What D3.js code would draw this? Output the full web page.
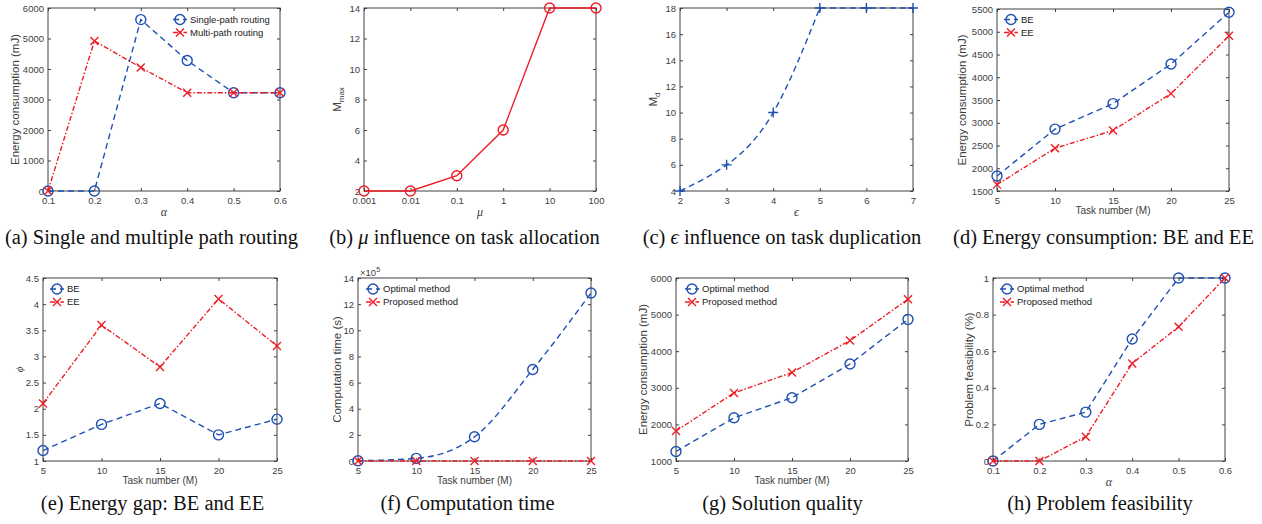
<!DOCTYPE html>
<html>
<head>
<meta charset="utf-8">
<script src="https://cdn.jsdelivr.net/npm/d3@7"></script>
<style>
  body { margin: 0; background: #fff; }
  .tick text { font-family: "Liberation Sans", Arial, sans-serif; font-size: 9.5px; fill: #404040; }
  .tick line { stroke: #404040; }
  .lab { font-family: "Liberation Sans", Arial, sans-serif; fill: #404040; }
  .leg { font-family: "Liberation Sans", Arial, sans-serif; font-size: 9.5px; fill: #1a1a1a; }
  .cap { font-family: "Liberation Serif", "Times New Roman", serif; font-size: 20.5px; fill: #111; }
  .greek { font-family: "Liberation Serif", "DejaVu Serif", serif; font-style: italic; fill: #404040; }
</style>
</head>
<body>
<svg id="fig" width="1262" height="524"></svg>
<script>
// ---- data ----
var alphaVals = [0.1, 0.2, 0.3, 0.4, 0.5, 0.6];
var singlePath = [0, 0, 5620, 4280, 3220, 3220];
var multiPath = [0, 4920, 4050, 3220, 3220, 3220];

var muVals = [0.001, 0.01, 0.1, 1, 10, 100];
var mMax = [2, 2, 3, 6, 14, 14];

var epsVals = [2, 3, 4, 5, 6, 7];
var mD = [4, 6, 10, 18, 18, 18];

var taskNums = [5, 10, 15, 20, 25];
var energyBE = [1830, 2860, 3420, 4290, 5430];
var energyEE = [1640, 2440, 2830, 3640, 4910];

var gapBE = [1.2, 1.7, 2.1, 1.5, 1.8];
var gapEE = [2.1, 3.6, 2.8, 4.1, 3.2];

// computation time, in units of 10^5 s
var timeOptimal = [0.02, 0.2, 1.85, 7.0, 12.85];
var timeProposed = [0, 0, 0, 0, 0];

var qualityOptimal = [1260, 2180, 2730, 3650, 4870];
var qualityProposed = [1820, 2860, 3420, 4290, 5420];

var feasOptimal = [0, 0.2, 0.267, 0.667, 1, 1];
var feasProposed = [0, 0, 0.133, 0.533, 0.733, 1];

// tick values
var energyTicksA = [0, 1000, 2000, 3000, 4000, 5000, 6000];
var mMaxTicks = [2, 4, 6, 8, 10, 12, 14];
var mDTicks = [4, 6, 8, 10, 12, 14, 16, 18];
var energyTicksD = [1500, 2000, 2500, 3000, 3500, 4000, 4500, 5000, 5500];
var gapTicks = [1, 1.5, 2, 2.5, 3, 3.5, 4, 4.5];
var timeTicks = [0, 2, 4, 6, 8, 10, 12, 14];
var qualityTicks = [1000, 2000, 3000, 4000, 5000, 6000];
var feasTicks = [0, 0.2, 0.4, 0.6, 0.8, 1];

var captions = [
  "(a) Single and multiple path routing",
  "(b) μ influence on task allocation",
  "(c) ϵ influence on task duplication",
  "(d) Energy consumption: BE and EE",
  "(e) Energy gap: BE and EE",
  "(f) Computation time",
  "(g) Solution quality",
  "(h) Problem feasibility"
];

var blue = "#1f50b2", red = "#ee1c25";
var dashBlue = "6,4", dashRed = "5,2,1.5,2";

var svg = d3.select("#fig");

// draw one marker of a given type at (cx, cy)
function addMarker(g, type, cx, cy, color) {
  if (type === "o") {
    g.append("circle").attr("cx", cx).attr("cy", cy).attr("r", 5)
      .attr("fill", "none").attr("stroke", color).attr("stroke-width", 1.4);
  } else {
    var d = type === "x" ? "M-4,-4L4,4M-4,4L4,-4" : "M-5,0L5,0M0,-5L0,5";
    g.append("path").attr("d", d)
      .attr("transform", "translate(" + cx + "," + cy + ")")
      .attr("stroke", color).attr("stroke-width", 1.4).attr("fill", "none");
  }
}

function drawPanel(p) {
  var w = p.x1 - p.x0, h = p.y1 - p.y0;
  var g = svg.append("g").attr("transform", "translate(" + p.x0 + "," + p.y0 + ")");

  var x = (p.xLog ? d3.scaleLog() : d3.scaleLinear()).domain(p.xDomain).range([0, w]);
  var y = d3.scaleLinear().domain(p.yDomain).range([h, 0]);

  var fmt = function(d) { return String(d); };

  // axes, ticks pointing inside like MATLAB
  g.append("g").attr("transform", "translate(0," + h + ")")
    .call(d3.axisBottom(x).tickValues(p.xTicks).tickFormat(fmt).tickSizeInner(-3).tickSizeOuter(0).tickPadding(6.5));
  g.append("g")
    .call(d3.axisLeft(y).tickValues(p.yTicks).tickFormat(fmt).tickSizeInner(-3).tickSizeOuter(0).tickPadding(4));
  g.append("g")
    .call(d3.axisTop(x).tickValues(p.xTicks).tickFormat("").tickSizeInner(-3).tickSizeOuter(0));
  g.append("g").attr("transform", "translate(" + w + ",0)")
    .call(d3.axisRight(y).tickValues(p.yTicks).tickFormat("").tickSizeInner(-3).tickSizeOuter(0));
  g.selectAll(".domain").remove();
  g.selectAll(".tick text").attr("font-family", null).attr("font-size", null);

  g.append("rect").attr("width", w).attr("height", h)
    .attr("fill", "none").attr("stroke", "#404040").attr("stroke-width", 1);

  var line = function(curve) {
    return d3.line()
      .x(function(d) { return x(d[0]); })
      .y(function(d) { return y(d[1]); })
      .curve(curve);
  };

  // series
  p.series.forEach(function(s) {
    var pts = d3.zip(s.x, s.y);
    var parts;
    if (p.splineUpTo) {
      // spline through the rising part, straight along the plateau
      parts = [[pts.slice(0, p.splineUpTo + 1), d3.curveNatural],
               [pts.slice(p.splineUpTo), d3.curveLinear]];
    } else {
      parts = [[pts, p.smooth ? d3.curveMonotoneX : d3.curveLinear]];
    }
    parts.forEach(function(pt) {
      g.append("path").datum(pt[0]).attr("d", line(pt[1]))
        .attr("fill", "none").attr("stroke", s.color).attr("stroke-width", 1.4)
        .attr("stroke-dasharray", s.dash);
    });
    pts.forEach(function(d) { addMarker(g, s.marker, x(d[0]), y(d[1]), s.color); });
  });

  // legend (no box)
  if (p.legend) {
    p.series.forEach(function(s, i) {
      var ly = p.legend.y + i * 13, mx = p.legend.x;
      svg.append("line").attr("x1", mx - 7).attr("x2", mx + 7).attr("y1", ly).attr("y2", ly)
        .attr("stroke", s.color).attr("stroke-width", 1.4).attr("stroke-dasharray", s.dash);
      addMarker(svg, s.marker, mx, ly, s.color);
      svg.append("text").attr("class", "leg").attr("x", mx + 10).attr("y", ly)
        .attr("dy", "0.35em").text(s.label);
    });
  }

  // x label
  var xl = svg.append("text").attr("x", (p.x0 + p.x1) / 2).attr("y", p.y1 + p.xLabelDy)
    .attr("text-anchor", "middle").attr("dy", "0.35em");
  if (p.xGreek) xl.attr("class", "greek").attr("font-size", "12px").text(p.xLabel);
  else xl.attr("class", "lab").attr("font-size", "10px").text(p.xLabel);

  // y label, rotated
  var yl = svg.append("text")
    .attr("transform", "translate(" + p.yLabelX + "," + (p.y0 + p.y1) / 2 + ") rotate(-90)")
    .attr("text-anchor", "middle").attr("dy", "0.35em");
  if (p.yGreek) {
    yl.attr("class", "greek").attr("font-size", "11px").text(p.yLabel);
  } else {
    yl.attr("class", "lab").attr("font-size", "11.5px").text(p.yLabel);
    if (p.ySub) yl.append("tspan").attr("font-size", "8px").attr("dy", "3").text(p.ySub);
  }

  return { g: g, x: x, y: y };
}

var panels = [
  { x0: 48, x1: 280, y0: 8, y1: 191, xDomain: [0.1, 0.6], yDomain: [0, 6000],
    xTicks: alphaVals, yTicks: energyTicksA, xLabel: "α", xGreek: true, xLabelDy: 21,
    yLabel: "Energy consumption (mJ)", yLabelX: 15,
    legend: { x: 180, y: 19.5 },
    series: [
      { x: alphaVals, y: singlePath, color: blue, dash: dashBlue, marker: "o", label: "Single-path routing" },
      { x: alphaVals, y: multiPath, color: red, dash: dashRed, marker: "x", label: "Multi-path routing" }
    ] },
  { x0: 364, x1: 596, y0: 8, y1: 191, xDomain: [0.001, 100], xLog: true, yDomain: [2, 14],
    xTicks: muVals, yTicks: mMaxTicks, xLabel: "μ", xGreek: true, xLabelDy: 21,
    yLabel: "M", ySub: "max", yLabelX: 337,
    series: [
      { x: muVals, y: mMax, color: red, dash: null, marker: "o" }
    ] },
  { x0: 680, x1: 913, y0: 8, y1: 191, xDomain: [2, 7], yDomain: [4, 18],
    xTicks: epsVals, yTicks: mDTicks, xLabel: "ϵ", xGreek: true, xLabelDy: 21,
    yLabel: "M", ySub: "d", yLabelX: 653, splineUpTo: 3,
    series: [
      { x: epsVals, y: mD, color: blue, dash: dashBlue, marker: "+" }
    ] },
  { x0: 997, x1: 1229, y0: 9, y1: 191, xDomain: [5, 25], yDomain: [1500, 5500],
    xTicks: taskNums, yTicks: energyTicksD, xLabel: "Task number (M)", xLabelDy: 19,
    yLabel: "Energy consumption (mJ)", yLabelX: 962,
    legend: { x: 1011, y: 19.5 },
    series: [
      { x: taskNums, y: energyBE, color: blue, dash: dashBlue, marker: "o", label: "BE" },
      { x: taskNums, y: energyEE, color: red, dash: dashRed, marker: "x", label: "EE" }
    ] },
  { x0: 43, x1: 277, y0: 278, y1: 461, xDomain: [5, 25], yDomain: [1, 4.5],
    xTicks: taskNums, yTicks: gapTicks, xLabel: "Task number (M)", xLabelDy: 19,
    yLabel: "ϕ", yGreek: true, yLabelX: 19,
    legend: { x: 57, y: 289 },
    series: [
      { x: taskNums, y: gapBE, color: blue, dash: dashBlue, marker: "o", label: "BE" },
      { x: taskNums, y: gapEE, color: red, dash: dashRed, marker: "x", label: "EE" }
    ] },
  { x0: 358, x1: 591, y0: 278, y1: 461, xDomain: [5, 25], yDomain: [0, 14],
    xTicks: taskNums, yTicks: timeTicks, xLabel: "Task number (M)", xLabelDy: 19,
    yLabel: "Computation time (s)", yLabelX: 337, smooth: true,
    legend: { x: 373, y: 289 },
    series: [
      { x: taskNums, y: timeOptimal, color: blue, dash: dashBlue, marker: "o", label: "Optimal method" },
      { x: taskNums, y: timeProposed, color: red, dash: dashRed, marker: "x", label: "Proposed method" }
    ] },
  { x0: 676, x1: 908, y0: 278, y1: 461, xDomain: [5, 25], yDomain: [1000, 6000],
    xTicks: taskNums, yTicks: qualityTicks, xLabel: "Task number (M)", xLabelDy: 19,
    yLabel: "Energy consumption (mJ)", yLabelX: 643,
    legend: { x: 692, y: 289 },
    series: [
      { x: taskNums, y: qualityOptimal, color: blue, dash: dashBlue, marker: "o", label: "Optimal method" },
      { x: taskNums, y: qualityProposed, color: red, dash: dashRed, marker: "x", label: "Proposed method" }
    ] },
  { x0: 993, x1: 1225, y0: 278, y1: 461, xDomain: [0.1, 0.6], yDomain: [0, 1],
    xTicks: alphaVals, yTicks: feasTicks, xLabel: "α", xGreek: true, xLabelDy: 21,
    yLabel: "Problem feasibility (%)", yLabelX: 969,
    legend: { x: 1007, y: 289 },
    series: [
      { x: alphaVals, y: feasOptimal, color: blue, dash: dashBlue, marker: "o", label: "Optimal method" },
      { x: alphaVals, y: feasProposed, color: red, dash: dashRed, marker: "x", label: "Proposed method" }
    ] }
];

panels.forEach(drawPanel);

// exponent label of panel (f)
var expo = svg.append("text").attr("class", "lab").attr("font-size", "9.5px")
  .attr("x", 360).attr("y", 276).text("×10");
expo.append("tspan").attr("font-size", "7px").attr("dy", "-4").text("5");

// sub-figure captions, Greek letters set in italic
var capX = [151.5, 464.5, 782, 1103.5, 152.5, 467.5, 782.5, 1100];
var capY = [244, 244, 244, 244, 510, 510, 510, 510];
captions.forEach(function(c, i) {
  var t = svg.append("text").attr("class", "cap").attr("x", capX[i]).attr("y", capY[i])
    .attr("text-anchor", "middle");
  c.split(/([μϵ])/).forEach(function(part) {
    if (!part) return;
    var ts = t.append("tspan").text(part);
    if (part === "μ" || part === "ϵ") ts.attr("font-style", "italic");
  });
});
</script>
</body>
</html>
